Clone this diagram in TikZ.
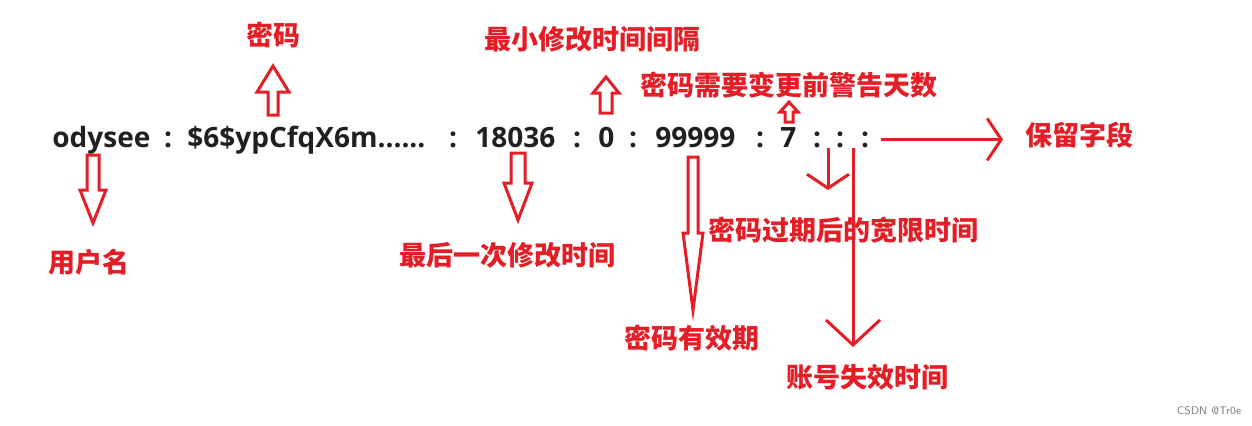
\documentclass[tikz,border=0pt]{standalone}
\usepackage{fontspec}
\setmainfont{Open Sans}
\newfontfamily\cjk{Noto Sans CJK SC}
\usetikzlibrary{arrows.meta,calc}
\definecolor{markred}{RGB}{228,30,38}
\definecolor{inkgray}{RGB}{32,32,32}
% hollow block arrow: x, tail y, head base y, tip y, half shaft, half head
\newcommand{\blockarrow}[6]{%
  \draw[hollow] (#1-#5,#2) -- (#1+#5,#2) -- (#1+#5,#3) -- (#1+#6,#3) -- (#1,#4)
    -- (#1-#6,#3) -- (#1-#5,#3) -- cycle;}

\begin{document}
\begin{tikzpicture}[x=0.5pt, y=-0.5pt,
    field/.style={anchor=base west, inner sep=0pt, text=inkgray, font=\bfseries\fontsize{14}{16}\selectfont},
    colon/.style={anchor=base, inner sep=0pt, text=inkgray, font=\bfseries\fontsize{14}{16}\selectfont},
    tag/.style={inner sep=0pt, text=markred, font=\cjk\bfseries\fontsize{13.5}{16}\selectfont},
    hollow/.style={markred, line width=1.5pt, fill=white, line join=miter},
    thinarrow/.style={markred, line width=1.5pt, -{Straight Barb[length=7pt,width=21pt]}}]
    \useasboundingbox (0,0) rectangle (1252,425);

    % the shadow line
    \node[field] (user) at (52,147) {odysee};
    \node[colon] (c1) at (168,147) {:};
    \node[field] (pass) at (187,147) {\$6\$ypCfqX6m......};
    \node[colon] (c2) at (453,147) {:};
    \node[field] (lastchg) at (475,147) {18036};
    \node[colon] (c3) at (577,147) {:};
    \node[field] (mindays) at (598,147) {0};
    \node[colon] (c4) at (633,147) {:};
    \node[field] (maxdays) at (655,147) {99999};
    \node[colon] (c5) at (760,147) {:};
    \node[field] (warn) at (780,147) {7};
    \node[colon] (c6) at (817,147) {:};
    \node[colon] (c7) at (840,147) {:};
    \node[colon] (c8) at (865,147) {:};

    % field names
    \node[tag] (pwdlbl) at (273,35) {密码};
    \node[tag] (minlbl) at (592,39) {最小修改时间间隔};
    \node[tag] (warnlbl) at (789,85) {密码需要变更前警告天数};
    \node[tag, anchor=west] (reslbl) at (1025,135) {保留字段};
    \node[tag] (userlbl) at (89,262) {用户名};
    \node[tag] (lastlbl) at (507,255) {最后一次修改时间};
    \node[tag] (gracelbl) at (843,230) {密码过期后的宽限时间};
    \node[tag] (maxlbl) at (692,338) {密码有效期};
    \node[tag] (expirelbl) at (867,377) {账号失效时间};
    \node[text=gray, font=\sffamily\fontsize{5.5}{6}\selectfont] (mark) at (1209,411) {CSDN @Tr0e};

    % hollow arrows
    \blockarrow{93}{155}{190}{223}{6}{13}
    \blockarrow{273}{115}{92}{66}{5}{16}
    \blockarrow{518}{153}{183}{220}{7}{14}
    \blockarrow{606}{113}{93}{77}{6}{13}
    \blockarrow{693}{157}{233}{310}{5}{10}
    \blockarrow{789}{122}{112}{102}{4}{9}

    % line arrows
    \coordinate (gracetip) at (828,190);
    \coordinate (expiretip) at (853,347);
    \draw[thinarrow] (c6.south -| gracetip) -- (gracetip);
    \draw[thinarrow, -{Straight Barb[length=12.5pt,width=27pt]}] (c7.south -| expiretip) -- (expiretip);
    \draw[thinarrow, shorten <=6pt, shorten >=11pt] (c8.east) -- (c8.east -| reslbl.west);
\end{tikzpicture}
\end{document}
